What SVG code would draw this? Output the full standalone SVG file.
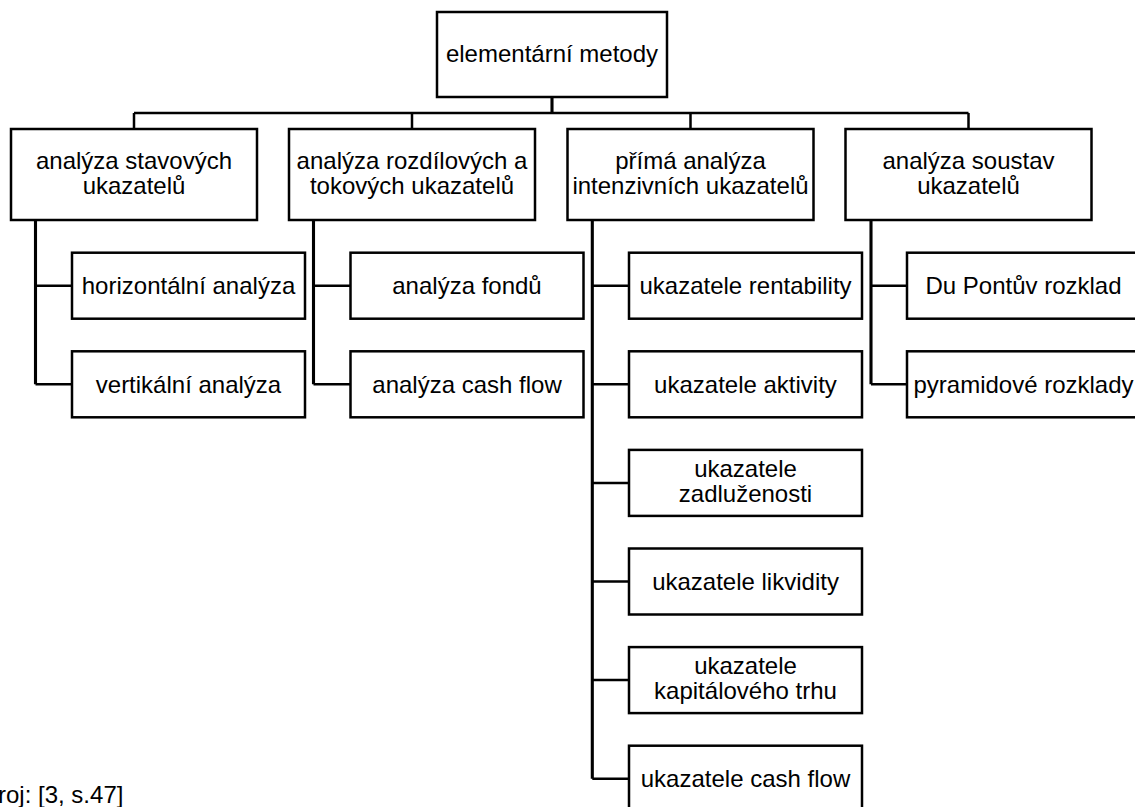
<svg xmlns="http://www.w3.org/2000/svg" width="1135" height="807" viewBox="0 0 1135 807">
<style>
.box{fill:#fff;stroke:#000;stroke-width:2.5}
.t{font-family:"Liberation Sans",Arial,sans-serif;font-size:24px;fill:#000;text-anchor:middle}
.src{font-family:"Liberation Sans",Arial,sans-serif;font-size:24px;fill:#000}
.c{fill:none;stroke:#000;stroke-width:2.5}
.sp{fill:none;stroke:#000;stroke-width:3.1}
</style>
<rect width="1135" height="807" fill="#fff"/>
<g id="connectors">
<path class="sp" d="M552 97V113"/>
<path class="c" d="M134 113H968.5M134 113V129M412 113V129M690.5 113V129M968.5 113V129"/>
<path class="sp" d="M35.5 220V384.3M313.5 220V384.3M592.3 220V778.7M871 220V384.3"/>
<path class="c" d="M35.5 285.7H72M35.5 384.3H72M313.5 285.7H350.5M313.5 384.3H350.5M592.3 285.7H629M592.3 384.3H629M592.3 482.9H629M592.3 581.5H629M592.3 680.1H629M592.3 778.7H629M871 285.7H907M871 384.3H907"/>
</g>
<g id="root"><rect class="box" x="437" y="12" width="230" height="85"/><text class="t" x="552" y="62">elementární metody</text></g>
<g id="n1"><rect class="box" x="11" y="129" width="246" height="91"/><text class="t" x="134" y="169">analýza stavových</text><text class="t" x="134" y="194">ukazatelů</text></g>
<g id="n2"><rect class="box" x="289" y="129" width="246" height="91"/><text class="t" x="412" y="169">analýza rozdílových a</text><text class="t" x="412" y="194">tokových ukazatelů</text></g>
<g id="n3"><rect class="box" x="567.5" y="129" width="246" height="91"/><text class="t" x="690.5" y="169">přímá analýza</text><text class="t" x="690.5" y="194">intenzivních ukazatelů</text></g>
<g id="n4"><rect class="box" x="845.5" y="129" width="246" height="91"/><text class="t" x="968.5" y="169">analýza soustav</text><text class="t" x="968.5" y="194">ukazatelů</text></g>
<g id="n1a"><rect class="box" x="72" y="252.7" width="233" height="66"/><text class="t" x="188.5" y="294">horizontální analýza</text></g>
<g id="n1b"><rect class="box" x="72" y="351.3" width="233" height="66"/><text class="t" x="188.5" y="392.6">vertikální analýza</text></g>
<g id="n2a"><rect class="box" x="350.5" y="252.7" width="233" height="66"/><text class="t" x="467" y="294">analýza fondů</text></g>
<g id="n2b"><rect class="box" x="350.5" y="351.3" width="233" height="66"/><text class="t" x="467" y="392.6">analýza cash flow</text></g>
<g id="n3a"><rect class="box" x="629" y="252.7" width="233" height="66"/><text class="t" x="745.5" y="294">ukazatele rentability</text></g>
<g id="n3b"><rect class="box" x="629" y="351.3" width="233" height="66"/><text class="t" x="745.5" y="392.6">ukazatele aktivity</text></g>
<g id="n3c"><rect class="box" x="629" y="449.9" width="233" height="66"/><text class="t" x="745.5" y="476.9">ukazatele</text><text class="t" x="745.5" y="501.9">zadluženosti</text></g>
<g id="n3d"><rect class="box" x="629" y="548.5" width="233" height="66"/><text class="t" x="745.5" y="589.8">ukazatele likvidity</text></g>
<g id="n3e"><rect class="box" x="629" y="647.1" width="233" height="66"/><text class="t" x="745.5" y="674.1">ukazatele</text><text class="t" x="745.5" y="699.1">kapitálového trhu</text></g>
<g id="n3f"><rect class="box" x="629" y="745.7" width="233" height="66"/><text class="t" x="745.5" y="787">ukazatele cash flow</text></g>
<g id="n4a"><rect class="box" x="907" y="252.7" width="233" height="66"/><text class="t" x="1023.5" y="294">Du Pontův rozklad</text></g>
<g id="n4b"><rect class="box" x="907" y="351.3" width="233" height="66"/><text class="t" x="1023.5" y="392.6">pyramidové rozklady</text></g>
<text class="src" x="-2" y="803">roj: [3, s.47]</text>
</svg>
